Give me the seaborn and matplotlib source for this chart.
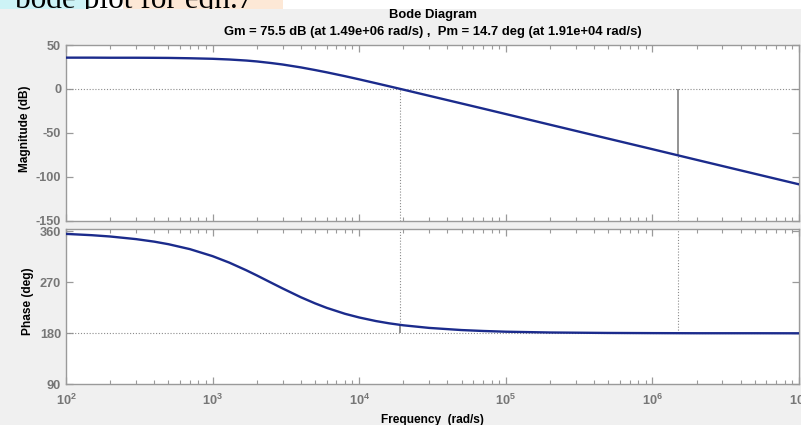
import numpy as np
import pandas as pd
import matplotlib
matplotlib.use("Agg")
import matplotlib.pyplot as plt
import seaborn as sns
from matplotlib.ticker import FixedLocator, FuncFormatter, LogLocator, NullFormatter
from matplotlib.patches import Rectangle
from matplotlib.transforms import Bbox

# ---- data ----
freq = [100, 150, 200, 300, 400, 500, 700, 1000, 1300, 1700, 2000, 2500, 3000,
        4000, 5000, 6000, 8000, 10000, 13000, 16000, 20000, 30000, 50000, 70000,
        1e5, 2e5, 5e5, 1e6, 2e6, 5e6, 1e7]
mag_db = [35.6, 35.6, 35.5, 35.5, 35.4, 35.3, 34.9, 34.3, 33.5, 32.3, 31.3, 29.5, 27.8,
          24.5, 21.5, 18.9, 14.5, 10.9, 6.5, 3.0, -0.8, -7.8, -16.6, -22.4,
          -28.6, -40.7, -56.6, -68.6, -80.7, -96.6, -108.6]
phase_deg = [355.4, 353.1, 350.8, 346.2, 341.7, 337.2, 328.5, 316.1, 304.7, 291.1, 282.2, 269.5, 259.2,
             243.6, 232.8, 224.9, 214.4, 207.9, 201.6, 197.6, 194.1, 189.5, 185.7, 184.1,
             182.8, 181.4, 180.6, 180.3, 180.1, 180.1, 180.0]

gm_db, gm_freq = 75.5, 1.49e6
pm_deg, pm_freq = 14.7, 1.91e4

mag_ticks = [-150, -100, -50, 0, 50]
phase_ticks = [90, 180, 270, 360]
decades = [2, 3, 4, 5, 6, 7]

title_line1 = "Bode Diagram"
title_line2 = "Gm = 75.5 dB (at 1.49e+06 rad/s) ,  Pm = 14.7 deg (at 1.91e+04 rad/s)"
doc_text = "bode plot for eqn.7"

# ---- style ----
sns.set_style("white")
plt.rcParams['font.family'] = ['Liberation Sans', 'DejaVu Sans']
plt.rcParams['mathtext.fontset'] = 'custom'
plt.rcParams['mathtext.rm'] = 'Liberation Sans:bold'
plt.rcParams['mathtext.bf'] = 'Liberation Sans:bold'
plt.rcParams['mathtext.it'] = 'Liberation Sans:bold'

W, H = 801, 425
BG = '#f0f0f0'
SPINE = '#9a9a9a'
TICKLAB = '#767676'
BLUE = '#1b2b8c'
GUIDE = '#8c8c8c'

fig = plt.figure(figsize=(W / 100, H / 100), dpi=100, facecolor=BG)

# document strip at the very top (part of the surrounding page)
fig.patches.append(Rectangle((0, 1 - 9 / H), 1, 9 / H, transform=fig.transFigure,
                             facecolor='white', edgecolor='none', zorder=0))
fig.patches.append(Rectangle((0, 1 - 9 / H), 90 / W, 9 / H, transform=fig.transFigure,
                             facecolor='#cdf3f6', edgecolor='none', zorder=0.5))
fig.patches.append(Rectangle((123 / W, 1 - 9 / H), 160 / W, 9 / H, transform=fig.transFigure,
                             facecolor='#fde8d6', edgecolor='none', zorder=0.5))
t = fig.text(15 / W, 1 - 8 / H, doc_text, family=['Liberation Serif'], fontsize=22.5,
             va='baseline', ha='left', color='black')
t.set_clip_box(Bbox.from_extents(0, H - 9, W, H))
t.set_clip_on(True)


def px_axes(l, top, r, b):
    return fig.add_axes([l / W, 1 - b / H, (r - l) / W, (b - top) / H])


ax1 = px_axes(66, 45, 799, 220.7)
ax2 = px_axes(66, 229.3, 799, 384.3)

df_mag = pd.DataFrame({'freq': freq, 'mag': mag_db})
df_ph = pd.DataFrame({'freq': freq, 'phase': phase_deg})

sns.lineplot(data=df_mag, x='freq', y='mag', ax=ax1, color=BLUE, lw=1.7,
             estimator=None, zorder=5)
sns.lineplot(data=df_ph, x='freq', y='phase', ax=ax2, color=BLUE, lw=1.7,
             estimator=None, zorder=5)

dot = (0, (1, 1.6))
for ax in (ax1, ax2):
    ax.set_xscale('log')
    ax.set_xlim(10 ** decades[0], 10 ** decades[-1])
    ax.set_facecolor('white')
    ax.set_xlabel('')
    ax.set_ylabel('')
    for s in ax.spines.values():
        s.set_visible(True)
        s.set_color(SPINE)
        s.set_linewidth(1.0)
    ax.xaxis.set_major_locator(FixedLocator([10.0 ** d for d in decades]))
    ax.xaxis.set_minor_locator(LogLocator(base=10, subs=np.arange(2, 10)))
    ax.xaxis.set_minor_formatter(NullFormatter())
    ax.tick_params(which='both', direction='in', top=True, right=True, bottom=True, left=True,
                   color=SPINE, labelcolor=TICKLAB, labelsize=9.2)
    ax.tick_params(which='major', length=5, width=0.9)
    ax.tick_params(which='minor', length=2.6, width=0.8)
    ax.tick_params(axis='y', pad=3.5)
    ax.tick_params(axis='x', pad=6)
    for lab in ax.get_yticklabels():
        lab.set_fontweight('bold')

ax1.set_ylim(mag_ticks[0], mag_ticks[-1])
ax1.set_yticks(mag_ticks)
ax1.set_yticklabels([str(v) for v in mag_ticks], fontweight='bold')
ax1.xaxis.set_major_formatter(NullFormatter())

ax2.set_ylim(phase_ticks[0], 363.5)
ax2.set_yticks(phase_ticks)
ax2.set_yticklabels([str(v) for v in phase_ticks], fontweight='bold')
ax2.xaxis.set_major_formatter(FuncFormatter(lambda v, p: r'$10^{%d}$' % int(round(np.log10(v)))))

# margin guide lines
ax1.axhline(0, color=GUIDE, ls=dot, lw=0.8, zorder=2)
ax1.vlines(pm_freq, mag_ticks[0], 0, color=GUIDE, ls=dot, lw=0.8, zorder=2)
ax1.vlines(gm_freq, -gm_db, 0, color='#808080', ls='-', lw=1.2, zorder=3)
ax1.vlines(gm_freq, mag_ticks[0], -gm_db, color=GUIDE, ls=dot, lw=0.8, zorder=2)

ax2.axhline(180, color=GUIDE, ls=dot, lw=0.8, zorder=2)
ax2.vlines(pm_freq, 180 + pm_deg, 363.5, color=GUIDE, ls=dot, lw=0.8, zorder=2)
ax2.vlines(pm_freq, 180, 180 + pm_deg, color='#808080', ls='-', lw=1.2, zorder=3)
ax2.vlines(gm_freq, 180, 363.5, color=GUIDE, ls=dot, lw=0.8, zorder=2)

# titles and labels
fig.text(432.5 / W, 1 - 15 / H, title_line1, ha='center', va='center',
         fontsize=9.4, fontweight='bold', color='black')
fig.text(432.5 / W, 1 - 32 / H, title_line2, ha='center', va='center',
         fontsize=9.4, fontweight='bold', color='black')
fig.text(25 / W, 1 - 128.5 / H, 'Magnitude (dB)', rotation=90, ha='center', va='center',
         fontsize=8.6, fontweight='bold', color='black')
fig.text(28 / W, 1 - 301 / H, 'Phase (deg)', rotation=90, ha='center', va='center',
         fontsize=8.6, fontweight='bold', color='black')
fig.text(432.5 / W, 1 - 423 / H, 'Frequency  (rad/s)', ha='center', va='baseline',
         fontsize=8.6, fontweight='bold', color='black')

fig.savefig('out.png', dpi=100, facecolor=BG)
